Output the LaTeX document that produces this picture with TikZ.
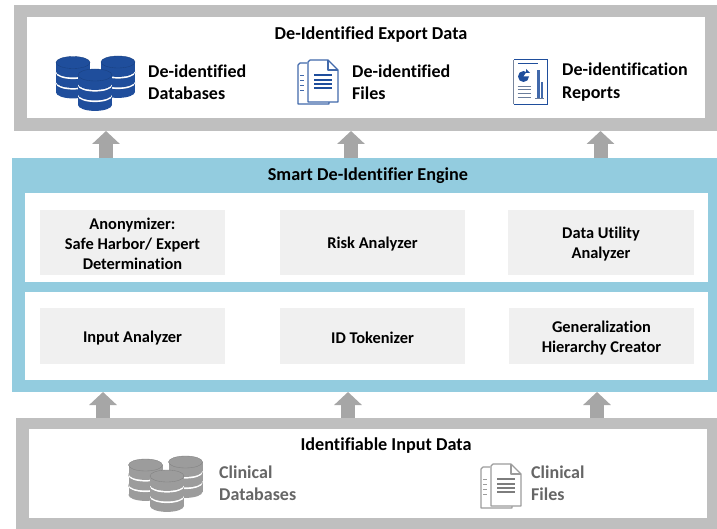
\documentclass[tikz,border=0pt]{standalone}
\usepackage{fontspec}
\setmainfont[Ligatures=NoCommon]{Carlito}
\usetikzlibrary{arrows.meta}
\definecolor{framegray}{HTML}{BFBFBF}
\definecolor{arrowgray}{HTML}{A6A6A6}
\definecolor{engineblue}{HTML}{93CCDF}
\definecolor{cellgray}{HTML}{F0F0F0}
\definecolor{iconblue}{HTML}{1F4E9C}
\definecolor{icongray}{HTML}{9C9C9C}
\definecolor{mutedtext}{HTML}{666666}
\tikzset{
  x=1pt,y=-1pt,
  box/.style={rectangle,inner sep=0pt,outer sep=0pt,draw=none,anchor=north west},
  titletext/.style={inner sep=0pt,font=\fontsize{18.2}{21}\selectfont\bfseries,text=black},
  itemtext/.style={inner sep=0pt,anchor=west,align=left,font=\fontsize{18}{22.5}\selectfont\bfseries,text=black},
  mutedtext/.style={itemtext,text=mutedtext},
  cellbox/.style={box,fill=cellgray},
  celltext/.style={inner sep=0pt,align=center,yshift=-1.6pt,font=\fontsize{16.4}{20}\selectfont\bfseries,text=black},
  blockarrow/.style={draw=arrowgray,line width=14pt,-{Triangle[length=13pt,width=27pt,color=arrowgray]}},
}
\newcommand{\boxat}[6][]{\node[box,#1,fill=#6,minimum width=#4 pt,minimum height=#5 pt] (#2) at (#3) {};}
\newcommand{\celat}[5]{\node[cellbox,minimum width=#3 pt,minimum height=#4 pt] (#1) at (#2) {};
  \node[celltext] (#1text) at (#1.center) {#5};}
% one disc: centre x, top-ellipse y, colour
\newcommand{\dbdisc}[3]{%
  \fill[white] (#1,#2+10.6) ellipse [x radius=17pt,y radius=6pt];
  \fill[#3] (#1,#2+8.9) ellipse [x radius=17pt,y radius=6pt];
  \fill[#3] (#1-17,#2) rectangle (#1+17,#2+8.9);
  \fill[#3] (#1,#2) ellipse [x radius=17pt,y radius=6pt];
  \draw[#3!82!black,line width=.35pt] (#1,#2) ellipse [x radius=17pt,y radius=6pt];
}
\newcommand{\dbstack}[3]{%
  \dbdisc{#1}{#2+21}{#3}
  \dbdisc{#1}{#2+10.5}{#3}
  \dbdisc{#1}{#2}{#3}
}
% file icon, origin at top-left of the pair of pages
\newcommand{\fileicon}[4]{%
  \begin{scope}[shift={(#1,#2)}]
    \draw[#3,line width=1.2pt,line join=round,fill=white] (9,3) -- (2,3) -- (0,5) -- (0,44) -- (31,44) -- (31,42);
    \foreach \ty in {15,20,25,30}{\draw[#3,line width=.9pt] (2,\ty) -- (6,\ty);}
    \draw[#3,line width=1.2pt,line join=round,fill=white] (30,0) -- (12,0) -- (10,2) -- (10,42) -- (40,42) -- (40,10) -- cycle;
    \draw[#3,line width=1.2pt,line join=round] (30,0) -- (30,10) -- (40,10);
    \foreach \ty in {15,20,24,28}{\draw[#4,line width=1.3pt] (16,\ty) -- (34,\ty);}
  \end{scope}
}
\begin{document}
\begin{tikzpicture}
\useasboundingbox (0,0) rectangle (717,529);
\fill[white] (0,0) rectangle (717,529);

% export frame
\boxat{exportframe}{14,5}{703}{126}{framegray}
\boxat{exportinner}{27,17}{678}{101}{white}
\node[titletext] (exporttitle) at (371,35) {De-Identified Export Data};

% engine
\boxat{engine}{12,158}{705}{234}{engineblue}
\node[titletext] (enginetitle) at (368,176) {Smart De-Identifier Engine};
\boxat{upperpanel}{24.5,193}{683.5}{88.5}{white}
\boxat{lowerpanel}{24.5,291.5}{683.5}{88.5}{white}

% cells
\celat{anon}{40,210}{185}{65}{Anonymizer:\\Safe Harbor/ Expert\\Determination}
\celat{risk}{280,210}{185}{65}{Risk Analyzer}
\celat{utility}{508,210}{186}{65}{Data Utility\\Analyzer}
\celat{input}{40,308}{185}{56}{Input Analyzer}
\celat{token}{280,308}{185}{56}{ID Tokenizer}
\celat{hier}{509,308}{185}{56}{Generalization\\Hierarchy Creator}

% input frame
\boxat{inputframe}{16,418}{701}{111}{framegray}
\boxat{inputinner}{29,429}{678}{89}{white}
\node[titletext] (inputtitle) at (386,446) {Identifiable Input Data};

% connectors
\coordinate (up1) at (106,145);
\coordinate (up2) at (351,145);
\coordinate (up3) at (600.5,145);
\coordinate (in1) at (103,405);
\coordinate (in2) at (348,405);
\coordinate (in3) at (597,405);
\foreach \c in {up1,up2,up3}{\draw[blockarrow] (engine.north -| \c) -- (exportframe.south -| \c);}
\foreach \c in {in1,in2,in3}{\draw[blockarrow] (inputframe.north -| \c) -- (engine.south -| \c);}

% export items
\dbstack{73}{62.5}{iconblue}
\dbstack{118}{62}{iconblue}
\dbstack{95}{75}{iconblue}
\node[itemtext] (dbout) at (148,82.5) {De-identified\\Databases};
\fileicon{298}{60}{iconblue!85!white}{iconblue}
\node[itemtext] (fileout) at (352,82.5) {De-identified\\Files};

% report icon
\begin{scope}
  \fill[white] (513.7,59.7) rectangle (547.5,104.5);
  \draw[iconblue,line width=1.3pt] (513.7,104.3) -- (547.5,104.3) -- (547.5,59.7) -- (513.7,59.7);
  \draw[icongray!70!iconblue,line width=1.3pt] (513.7,59.7) -- (513.7,104.3);
  \draw[iconblue,line width=1pt] (518,63.5) -- (538,63.5);
  \fill[iconblue] (523.5,76.5) circle (5.5pt);
  \fill[white] (523.5,76.5) -- (528,70) -- (530,76.5) -- cycle;
  \fill[iconblue] (526,73) -- (526,69) -- (530,73) -- cycle;
  \foreach \ty in {86,89.5,93,97.5}{\draw[icongray!60!iconblue,line width=.8pt] (517.5,\ty) -- (531,\ty);}
  \fill[iconblue!85!white] (537,70) rectangle (539.5,98);
  \fill[iconblue!85!white] (540.5,82) rectangle (543,98);
  \draw[icongray!60!iconblue,line width=.6pt] (535,98.5) -- (544,98.5);
\end{scope}
\node[itemtext] (reportout) at (562,82) {De-identification\\Reports};

% input items
\dbstack{145.5}{465}{icongray}
\dbstack{185.5}{462}{icongray}
\dbstack{167}{476}{icongray}
\node[mutedtext] (dbin) at (219,483) {Clinical\\Databases};
\fileicon{481}{464}{icongray}{icongray!80!black}
\node[mutedtext] (filein) at (531,483) {Clinical\\Files};
\end{tikzpicture}
\end{document}
